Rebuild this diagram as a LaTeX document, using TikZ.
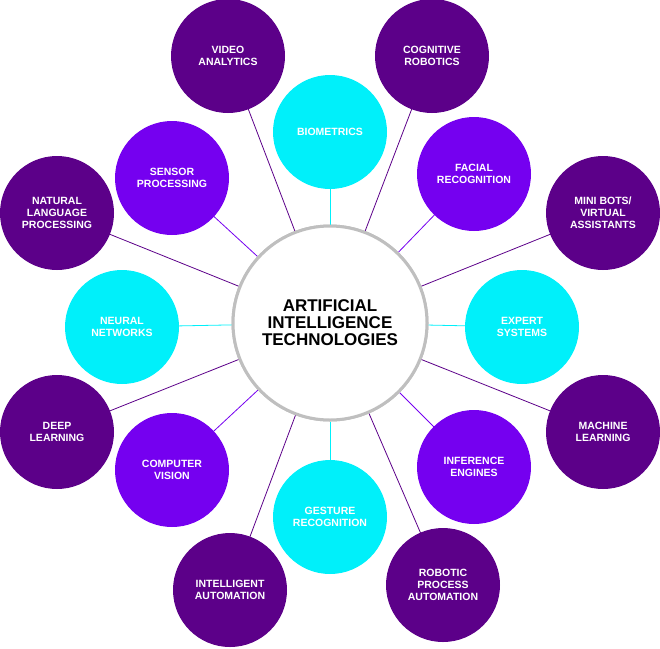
\documentclass[tikz,border=0pt]{standalone}
\usepackage{fontspec}
\setmainfont{Liberation Sans}
\definecolor{dk}{HTML}{5C0089}
\definecolor{vi}{HTML}{7500F0}
\definecolor{cy}{HTML}{00F0FA}
\tikzset{x=1pt,y=-1pt,
 bub/.style={circle,minimum size=114pt,inner sep=0pt,fill=#1,text=white,font=\bfseries\fontsize{10.5}{12}\selectfont,align=center},
 con/.style={draw=#1,line width=0.8pt}}
\begin{document}
\begin{tikzpicture}
\useasboundingbox (0,0) rectangle (660,648);
\node[circle,minimum size=194pt,draw=black!25,line width=3pt,fill=white,font=\bfseries\fontsize{17}{17}\selectfont,align=center] (c) at (330,323) {ARTIFICIAL\\INTELLIGENCE\\TECHNOLOGIES};
\foreach \n/\x/\y/\col/\t in {
 va/228/56/dk/{VIDEO\\ANALYTICS},
 cr/432/56/dk/{COGNITIVE\\ROBOTICS},
 mb/603/213/dk/{MINI BOTS/\\VIRTUAL\\ASSISTANTS},
 ml/603/432/dk/{MACHINE\\LEARNING},
 rp/443/585/dk/{ROBOTIC\\PROCESS\\AUTOMATION},
 ia/230/590/dk/{INTELLIGENT\\AUTOMATION},
 dl/57/432/dk/{DEEP\\LEARNING},
 nl/57/213/dk/{NATURAL\\LANGUAGE\\PROCESSING},
 bi/330/132/cy/{BIOMETRICS},
 fr/474/174/vi/{FACIAL\\RECOGNITION},
 es/522/327/cy/{EXPERT\\SYSTEMS},
 ie/474/467/vi/{INFERENCE\\ENGINES},
 gr/330/517/cy/{GESTURE\\RECOGNITION},
 cv/172/470/vi/{COMPUTER\\VISION},
 nn/122/327/cy/{NEURAL\\NETWORKS},
 sp/172/178/vi/{SENSOR\\PROCESSING}}
{
 \draw[con=\col] (c) -- (\x,\y);
 \node[bub=\col] (\n) at (\x,\y) {\t};
}
\node[circle,minimum size=194pt,draw=black!25,line width=3pt,fill=white,font=\bfseries\fontsize{17}{17}\selectfont,align=center] at (c) {ARTIFICIAL\\INTELLIGENCE\\TECHNOLOGIES};
\end{tikzpicture}
\end{document}
